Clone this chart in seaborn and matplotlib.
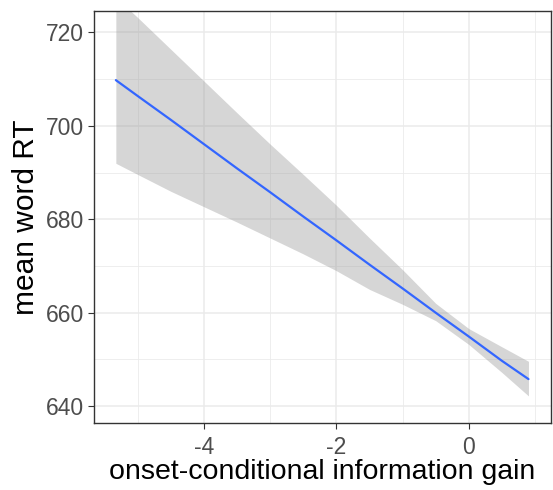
import numpy as np
import pandas as pd
import matplotlib
matplotlib.use("Agg")
import matplotlib.pyplot as plt
import seaborn as sns
from matplotlib.ticker import MultipleLocator

# Values
gain = [-5.33, -5.0, -4.5, -4.0, -3.5, -3.0, -2.5, -2.0, -1.5, -1.0, -0.5, 0.0, 0.5, 0.9]
fit = [709.8, 706.4, 701.3, 696.1, 690.9, 685.8, 680.6, 675.5, 670.3, 665.2, 660.0, 654.9, 649.7, 645.8]
upper = [727.5, 723.2, 716.4, 709.6, 702.8, 696.1, 689.6, 683.0, 676.0, 669.2, 662.0, 656.6, 652.7, 649.6]
lower = [692.0, 689.6, 686.0, 682.7, 679.4, 676.0, 672.6, 669.0, 665.0, 661.8, 658.3, 653.2, 647.2, 642.2]

x_ticks = [-4, -2, 0]
y_ticks = [640, 660, 680, 700, 720]
x_label = "onset-conditional information gain"
y_label = "mean word RT"

df = pd.DataFrame({"gain": gain, "fit": fit, "upper": upper, "lower": lower})

sns.set_theme(style="white")
plt.rcParams["font.family"] = ["Liberation Sans", "DejaVu Sans"]

fig = plt.figure(figsize=(5.53, 4.90), dpi=100)
ax = fig.add_axes([94 / 553, 67 / 490, 457 / 553, 412 / 490])

ax.fill_between(df["gain"], df["lower"], df["upper"], color="#999999", alpha=0.4,
                linewidth=0, zorder=2)
sns.lineplot(data=df, x="gain", y="fit", ax=ax, color="#3366FF", linewidth=1.6,
             zorder=3)

ax.set_xlim(-5.66, 1.24)
ax.set_ylim(636.4, 724.6)
ax.set_xticks(x_ticks)
ax.set_yticks(y_ticks)
ax.set_xticklabels([str(t) for t in x_ticks])
ax.set_yticklabels([str(t) for t in y_ticks])
ax.xaxis.set_minor_locator(MultipleLocator(1))
ax.yaxis.set_minor_locator(MultipleLocator(10))

ax.grid(True, which="major", color="#EBEBEB", linewidth=1.1, zorder=0)
ax.grid(True, which="minor", color="#EBEBEB", linewidth=0.6, zorder=0)
ax.set_axisbelow(True)

ax.tick_params(axis="both", which="major", direction="out", length=4, width=0.8,
               color="#333333", labelsize=16.5, labelcolor="#4D4D4D",
               bottom=True, left=True)
ax.tick_params(axis="x", which="major", pad=5)
ax.tick_params(axis="y", which="major", pad=3)
ax.tick_params(axis="both", which="minor", length=0)

for s in ax.spines.values():
    s.set_color("#333333")
    s.set_linewidth(1.0)

ax.set_xlabel(x_label, fontsize=20.5, color="black", labelpad=0)
ax.set_ylabel(y_label, fontsize=21.5, color="black", labelpad=4)

fig.savefig("out.png", dpi=100)
